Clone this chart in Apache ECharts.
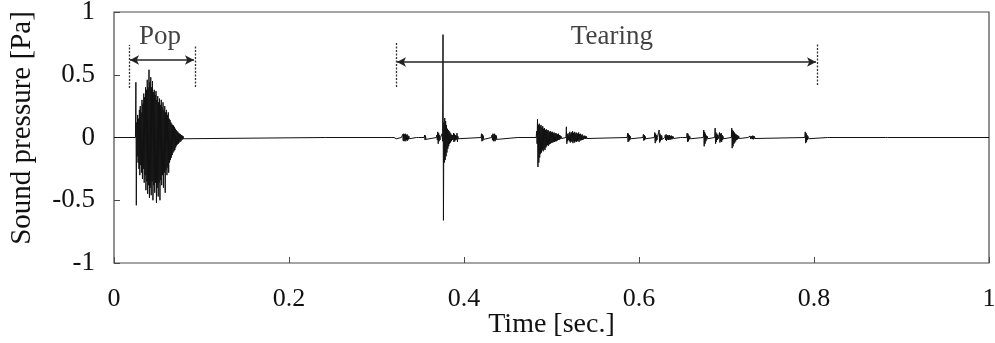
<!DOCTYPE html>
<html>
<head>
<meta charset="utf-8">
<script src="https://cdn.jsdelivr.net/npm/echarts@6/dist/echarts.min.js"></script>
<style>html,body{margin:0;padding:0;background:#fff}#c{width:995px;height:343px}</style>
</head>
<body>
<div id="c"></div>
<script>
// ---- axis ticks ----
const xTicks = [0, 0.2, 0.4, 0.6, 0.8, 1];
const yTicks = [-1, -0.5, 0, 0.5, 1];

// ---- waveform: burst start times [s], sample step 1 ms,
// positive and negative peak values [Pa] per sample ----
const sampleStep = 0.001;
const burstStart = [
  0.025, 0.242, 0.318, 0.322, 0.329, 0.346, 0.355, 0.369, 0.375,
  0.420, 0.432, 0.462, 0.483, 0.517, 0.587, 0.605, 0.618, 0.623,
  0.630, 0.648, 0.655, 0.674, 0.687, 0.692, 0.706, 0.725, 0.790,
  0.816, 0.882
];
const burstUpper = [
  [0.44,0.12,0.18,0.15,0.22,0.25,0.2,0.3,0.27,0.35,0.32,0.4,0.38,0.46,0.4,0.54,0.44,0.48,0.4,0.45,0.36,0.38,0.34,0.37,0.3,0.33,0.28,0.31,0.26,0.3,0.24,0.28,0.22,0.25,0.2,0.22,0.18,0.2,0.15,0.14,0.12,0.11,0.1,0.095,0.085,0.07,0.06,0.05,0.045,0.035,0.03,0.025,0.02,0.015,0.01,0.005],
  [0.008],
  [0.006,0.008],
  [0.01],
  [0.015,0.025,0.03,0.025,0.03,0.02,0.025,0.015,0.01],
  [0.008,0.01],
  [0.02,0.015],
  [0.02,0.045,0.035,0.02],
  [0.03,0.82,0.12,0.155,0.13,0.1,0.07,0.06,0.05,0.04,0.03,0.02,0.02,0.035,0.03,0.02,0.015,0.035,0.01],
  [0.03,0.025,0.015],
  [0.02,0.03,0.025,0.03,0.02,0.015],
  [0.008,0.006],
  [0.05,0.145,0.1,0.11,0.09,0.1,0.08,0.09,0.07,0.075,0.06,0.065,0.055,0.06,0.05,0.045,0.05,0.04,0.045,0.035,0.04,0.03,0.035,0.03,0.025,0.03,0.02,0.015,0.01],
  [0.085,0.03,0.02,0.035,0.045,0.03,0.04,0.05,0.035,0.045,0.03,0.04,0.035,0.03,0.04,0.025,0.03,0.02,0.025,0.015,0.01,0.015,0.01,0.008],
  [0.035,0.03,0.02,0.01],
  [0.025,0.02,0.01],
  [0.04,0.03,0.02],
  [0.06,0.03,0.02,0.015],
  [0.02,0.025,0.015,0.02,0.015,0.02,0.01,0.015,0.01,0.008,0.005],
  [0.012,0.01],
  [0.035,0.03,0.015,0.01],
  [0.06,0.045,0.03,0.015,0.01],
  [0.075,0.04,0.03,0.02],
  [0.04,0.03,0.035,0.02,0.01],
  [0.075,0.06,0.05,0.04,0.03,0.025,0.02,0.015,0.01],
  [0.01,0.015,0.012,0.008,0.012,0.015,0.01,0.008,0.006],
  [0.045,0.035,0.02,0.01],
  [0.008,0.006],
  [0.006,0.005]
];
const burstLower = [
  [-0.54,-0.15,-0.2,-0.25,-0.3,-0.22,-0.28,-0.33,-0.25,-0.36,-0.3,-0.42,-0.35,-0.45,-0.38,-0.48,-0.4,-0.46,-0.35,-0.5,-0.38,-0.44,-0.36,-0.52,-0.4,-0.47,-0.36,-0.5,-0.34,-0.38,-0.3,-0.4,-0.28,-0.44,-0.26,-0.3,-0.24,-0.28,-0.2,-0.18,-0.16,-0.14,-0.12,-0.11,-0.1,-0.08,-0.065,-0.055,-0.05,-0.04,-0.035,-0.03,-0.02,-0.015,-0.01,-0.005],
  [-0.008],
  [-0.006,-0.008],
  [-0.01],
  [-0.015,-0.025,-0.03,-0.025,-0.03,-0.02,-0.025,-0.015,-0.01],
  [-0.008,-0.01],
  [-0.02,-0.015],
  [-0.02,-0.05,-0.03,-0.02],
  [-0.03,-0.66,-0.2,-0.18,-0.15,-0.12,-0.09,-0.07,-0.05,-0.04,-0.03,-0.02,-0.02,-0.035,-0.03,-0.02,-0.015,-0.035,-0.01],
  [-0.03,-0.025,-0.015],
  [-0.02,-0.03,-0.025,-0.03,-0.02,-0.015],
  [-0.008,-0.006],
  [-0.05,-0.235,-0.2,-0.16,-0.13,-0.12,-0.1,-0.11,-0.09,-0.1,-0.08,-0.07,-0.06,-0.065,-0.055,-0.05,-0.045,-0.04,-0.04,-0.035,-0.035,-0.03,-0.03,-0.025,-0.02,-0.02,-0.015,-0.01,-0.008],
  [-0.05,-0.03,-0.02,-0.03,-0.04,-0.03,-0.035,-0.045,-0.03,-0.04,-0.03,-0.035,-0.03,-0.025,-0.035,-0.02,-0.025,-0.02,-0.02,-0.015,-0.01,-0.012,-0.01,-0.008],
  [-0.035,-0.03,-0.02,-0.01],
  [-0.025,-0.02,-0.01],
  [-0.045,-0.03,-0.02],
  [-0.04,-0.03,-0.02,-0.015],
  [-0.02,-0.025,-0.015,-0.02,-0.015,-0.02,-0.01,-0.015,-0.01,-0.008,-0.005],
  [-0.012,-0.01],
  [-0.035,-0.03,-0.015,-0.01],
  [-0.07,-0.05,-0.03,-0.015,-0.01],
  [-0.05,-0.035,-0.02,-0.01],
  [-0.04,-0.03,-0.035,-0.02,-0.01],
  [-0.085,-0.07,-0.05,-0.04,-0.03,-0.02,-0.015,-0.01,-0.008],
  [-0.01,-0.015,-0.012,-0.008,-0.012,-0.015,-0.01,-0.008,-0.006],
  [-0.045,-0.035,-0.02,-0.01],
  [-0.008,-0.006],
  [-0.006,-0.005]
];

// ---- annotations (data coordinates) ----
const annoLabels = ['Pop', 'Tearing'];
const annoLabelPos = [[0.0526, 0.80], [0.569, 0.80]];
const annoArrows = [[0.0183, 0.0914, 0.6175], [0.3234, 0.8023, 0.6016]];   // [t1, t2, level]
const annoDashes = [[0.0171, 0.394, 0.737], [0.0926, 0.402, 0.737], [0.3223, 0.402, 0.753], [0.8034, 0.418, 0.753]]; // [t, low, high]

// build the waveform polyline from the read peak values
const wave = [[0, 0]];
burstStart.forEach((t0, k) => {
  const up = burstUpper[k], lo = burstLower[k];
  wave.push([t0 - sampleStep * 0.5, 0]);
  for (let i = 0; i < up.length; i++) {
    wave.push([t0 + i * sampleStep, up[i]]);
    wave.push([t0 + (i + 0.5) * sampleStep, lo[i]]);
  }
  wave.push([t0 + up.length * sampleStep, 0]);
});
wave.push([1, 0]);

const serif = 'Liberation Serif';
const ink = '#111';
const frame = '#4a4a4a';

const markLines = [];
annoDashes.forEach(d => {
  markLines.push([{ coord: [d[0], d[1]], symbol: 'none' }, { coord: [d[0], d[2]], symbol: 'none',
    lineStyle: { type: [2, 1.5], color: '#333', width: 1.3 } }]);
});
annoArrows.forEach(a => {
  markLines.push([{ coord: [a[0], a[2]], symbol: 'arrow', symbolSize: [7, 9] },
    { coord: [a[1], a[2]], symbol: 'arrow', symbolSize: [7, 9], lineStyle: { type: 'solid', color: '#222', width: 1.5 } }]);
});

const chart = echarts.init(document.getElementById('c'), null, { renderer: 'canvas' });
chart.setOption({
  animation: false,
  backgroundColor: '#fff',
  grid: { left: 114, right: 6, top: 12, bottom: 80, containLabel: false, outerBoundsMode: 'none',
    show: true, borderColor: frame, borderWidth: 1.2, backgroundColor: 'transparent' },
  xAxis: {
    type: 'value', min: xTicks[0], max: xTicks[xTicks.length - 1], interval: 0.2,
    name: 'Time [sec.]', nameLocation: 'middle', nameGap: 48, nameMoveOverlap: false,
    nameTextStyle: { fontFamily: serif, fontSize: 28, color: ink },
    axisLine: { show: false, onZero: false },
    axisTick: { show: true, inside: true, length: 6, lineStyle: { color: frame, width: 1 } },
    axisLabel: { margin: 23, fontFamily: serif, fontSize: 26, color: ink },
    splitLine: { show: false }
  },
  yAxis: {
    type: 'value', min: yTicks[0], max: yTicks[yTicks.length - 1], interval: 0.5,
    axisLine: { show: false, onZero: false },
    axisTick: { show: true, inside: true, length: 6, lineStyle: { color: frame, width: 1 } },
    axisLabel: { margin: 19, fontFamily: serif, fontSize: 27, color: ink },
    splitLine: { show: false }
  },
  graphic: [{
    type: 'text', x: 22, y: 128, rotation: Math.PI / 2,
    style: { text: 'Sound pressure [Pa]', fontFamily: serif, fontSize: 29, fill: ink,
      align: 'center', verticalAlign: 'middle' }
  }],
  series: [
    {
      type: 'line', data: wave, showSymbol: false, symbol: 'none', sampling: null,
      lineStyle: { color: '#111', width: 1 }, clip: true, z: 3,
      markLine: {
        silent: true, animation: false, symbol: 'none',
        label: { show: false },
        lineStyle: { color: '#333', width: 1.2 },
        emphasis: { disabled: true },
        data: markLines
      }
    },
    {
      type: 'scatter', symbolSize: 0, silent: true, z: 5,
      data: annoLabelPos.map((p, i) => [p[0], p[1], annoLabels[i]]),
      label: { show: true, position: 'inside', formatter: p => p.value[2],
        fontFamily: serif, fontSize: 27, color: ink }
    }
  ]
});
</script>
</body>
</html>
